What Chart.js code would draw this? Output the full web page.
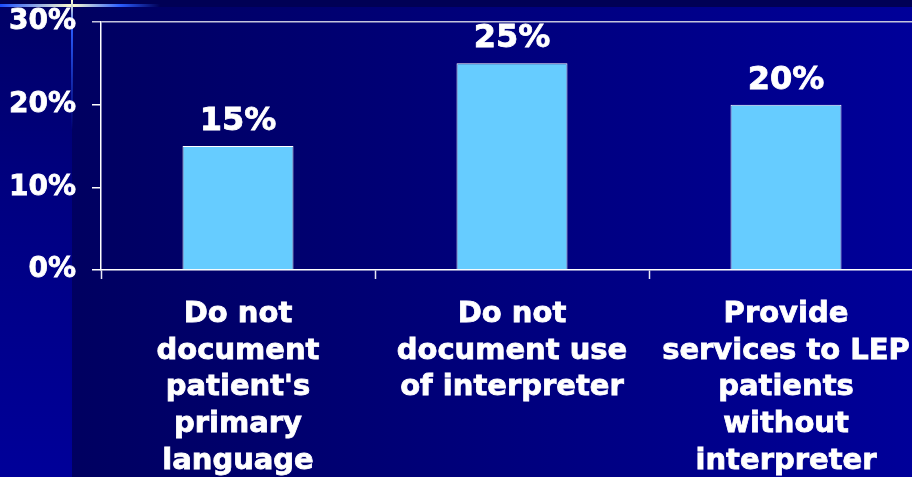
<!DOCTYPE html>
<html>
<head>
<meta charset="utf-8">
<script src="https://cdn.jsdelivr.net/npm/chart.js@4.4.0/dist/chart.umd.min.js"></script>
<style>
  html, body { margin: 0; padding: 0; width: 912px; height: 477px; overflow: hidden; }
  body { position: relative; background: linear-gradient(to right, #00005c 0%, #000070 35%, #000099 100%); }
  #strip { position: absolute; left: 0; top: 0; width: 72px; height: 477px;
           background: linear-gradient(to bottom, #000066 0%, #000080 40%, #000099 100%); }
  #topband { position: absolute; left: 0; top: 0; width: 912px; height: 7px; background: #000055; }
  #hglow { position: absolute; left: 0; top: 4px; width: 160px; height: 3px;
           background: linear-gradient(to right, #1a4dff 0%, #ffffcc 45%, #2a5cff 75%, rgba(0,40,255,0) 100%); }
  #vglow { position: absolute; left: 71px; top: 0; width: 2px; height: 130px;
           background: linear-gradient(to bottom, #ffffcc 0%, #2a5cff 20%, rgba(0,40,255,0) 100%); }
  #wrap { position: absolute; left: 0; top: 0; width: 930px; height: 477px; }
</style>
</head>
<body>
<div id="strip"></div>
<div id="topband"></div>
<div id="hglow"></div>
<div id="vglow"></div>
<div id="wrap"><canvas id="myChart" width="930" height="477"></canvas></div>
<script>
// categorias (quebradas em linhas) e percentuais
var categorias = [
    ['Do not', 'document', "patient's", 'primary', 'language'],
    ['Do not', 'document use', 'of interpreter'],
    ['Provide', 'services to LEP', 'patients', 'without', 'interpreter']
]
var percentuais = [15, 25, 20]
var ticksY = [0, 10, 20, 30]

var fonte = '"DejaVu Sans", Verdana, sans-serif'

// escreve o valor em cima de cada barra
var rotulosBarras = {
    id: 'rotulosBarras',
    afterDatasetsDraw(chart) {
        var ctx = chart.ctx
        var meta = chart.getDatasetMeta(0)
        ctx.save()
        ctx.fillStyle = '#ffffff'
        ctx.strokeStyle = '#ffffff'
        ctx.lineWidth = 0.8
        ctx.font = 'bold 32px ' + fonte
        ctx.textAlign = 'center'
        ctx.textBaseline = 'alphabetic'
        meta.data.forEach((bar, i) => {
            ctx.fillText(percentuais[i] + '%', bar.x, bar.y - 16)
            ctx.strokeText(percentuais[i] + '%', bar.x, bar.y - 16)
        })
        ctx.restore()
    }
}

var ctx = document.getElementById('myChart').getContext('2d')

var myChart = new Chart(ctx, {
    type: 'bar',
    data: {
        labels: categorias,
        datasets: [{
            data: percentuais,
            backgroundColor: '#66ccff',
            borderColor: '#ffffff',
            borderWidth: 1,
            barPercentage: 0.405,
            categoryPercentage: 1
        }]
    },
    options: {
        responsive: false,
        animation: false,
        layout: { padding: { top: 22, right: 7, left: 0, bottom: 0 } },
        plugins: {
            legend: { display: false },
            tooltip: { enabled: false }
        },
        scales: {
            x: {
                afterFit: s => { s.height = 207; s.paddingLeft = 0; s.paddingRight = 0 },
                grid: {
                    offset: true,
                    drawOnChartArea: false,
                    drawTicks: true,
                    tickLength: 9,
                    tickColor: '#e8e8f4',
                    tickWidth: 1.5
                },
                border: { color: '#ffffff', width: 1.5 },
                ticks: {
                    color: '#ffffff',
                    textStrokeColor: '#ffffff',
                    textStrokeWidth: 0.8,
                    font: { family: fonte, size: 29, weight: 'bold', lineHeight: 1.265 },
                    padding: 17,
                    maxRotation: 0,
                    autoSkip: false
                }
            },
            y: {
                min: 0,
                max: 30,
                // largura fixa do eixo e sem folga extra em cima/embaixo
                afterFit: s => { s.width = 101; s.paddingTop = 0; s.paddingBottom = 0 },
                afterBuildTicks: s => { s.ticks = ticksY.map(v => ({ value: v })) },
                grid: {
                    color: c => c.tick && c.tick.value === 30 ? '#c4c4dc' : 'rgba(0,0,0,0)',
                    lineWidth: 1.5,
                    drawTicks: true,
                    tickLength: 9,
                    tickColor: c => c.tick && c.tick.value === 30 ? '#c4c4dc' : '#ffffff',
                    tickWidth: 1.5
                },
                border: { color: '#ffffff', width: 1.5 },
                ticks: {
                    color: '#ffffff',
                    textStrokeColor: '#ffffff',
                    textStrokeWidth: 0.8,
                    font: { family: fonte, size: 28, weight: 'bold' },
                    padding: 16,
                    callback: v => v + '%'
                }
            }
        }
    },
    plugins: [rotulosBarras]
})
</script>
</body>
</html>
